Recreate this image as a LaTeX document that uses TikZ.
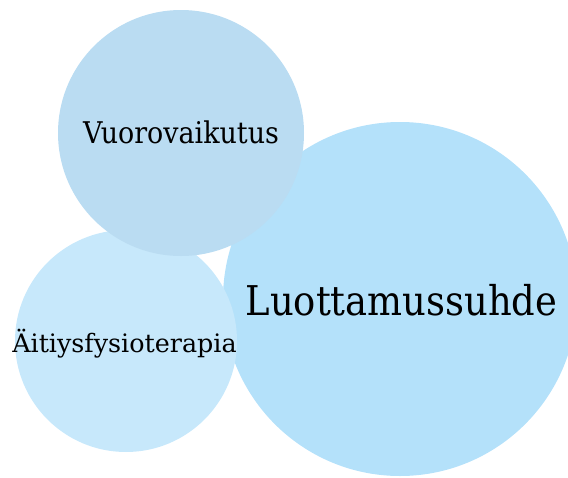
\documentclass[tikz,border=0pt]{standalone}
\usepackage{fontspec}
\setmainfont{DejaVu Serif}
\newfontfamily\narrowserif[FakeStretch=0.9]{DejaVu Serif}
\definecolor{cvuoro}{RGB}{186,220,242}
\definecolor{caiti}{RGB}{199,232,251}
\definecolor{cluot}{RGB}{180,225,250}
\begin{document}
\begin{tikzpicture}[x=1pt,y=-1pt,
  bubble/.style={circle,inner sep=0pt,draw=none},
  lbl/.style={anchor=base,inner sep=0pt,text=black}]
\useasboundingbox (0,0) rectangle (568,477);
\node[bubble,fill=cluot,minimum size=354pt] (cL) at (400,299) {};
\node[bubble,fill=caiti,minimum size=222pt] (cA) at (126,341) {};
\node[bubble,fill=cvuoro,minimum size=246pt] (cV) at (181,133) {};
\node[lbl,font=\narrowserif\fontsize{41}{44}\selectfont] (tL) at (401.5,315) {Luottamussuhde};
\node[lbl,font=\fontsize{25.4}{30}\selectfont] (tA) at (124.5,352) {Äitiysfysioterapia};
\node[lbl,font=\narrowserif\fontsize{29.9}{34}\selectfont] (tV) at (181,143) {Vuorovaikutus};
\end{tikzpicture}
\end{document}
